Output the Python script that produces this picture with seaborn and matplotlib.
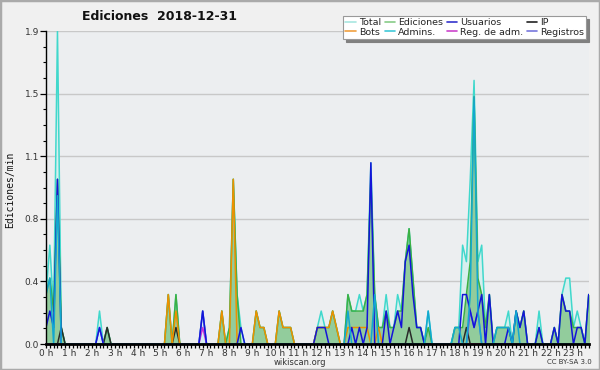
import numpy as np
import pandas as pd
import matplotlib
matplotlib.use("Agg")
import matplotlib.pyplot as plt
import seaborn as sns
from matplotlib.patches import Rectangle
from matplotlib.lines import Line2D

# 10-minute bins, one row per hour (edits per minute)
hour_labels = [f"{h} h" for h in range(24)]
ytick_vals = [0.0, 0.38, 0.76, 1.14, 1.52, 1.9]
ytick_labels = ["0.0", "0.4", "0.8", "1.1", "1.5", "1.9"]

total = [
    0.3, 0.6, 0.2, 1.9, 0.1, 0,     # 0h
    0, 0, 0, 0, 0, 0,               # 1h
    0, 0, 0.2, 0, 0.1, 0,           # 2h
    0, 0, 0, 0, 0, 0,               # 3h
    0, 0, 0, 0, 0, 0,               # 4h
    0, 0, 0.3, 0, 0.3, 0,           # 5h
    0, 0, 0, 0, 0, 0.2,             # 6h
    0, 0, 0, 0, 0.2, 0,             # 7h
    0.1, 1.0, 0.3, 0.1, 0, 0,       # 8h
    0, 0.2, 0.1, 0.1, 0, 0,         # 9h
    0, 0.2, 0.1, 0.1, 0.1, 0,       # 10h
    0, 0, 0, 0, 0, 0.1,             # 11h
    0.2, 0.1, 0.1, 0.2, 0.1, 0,     # 12h
    0, 0.3, 0.2, 0.2, 0.3, 0.2,     # 13h
    0.3, 1.1, 0.3, 0.1, 0.1, 0.3,   # 14h
    0.1, 0.1, 0.3, 0.2, 0.5, 0.7,   # 15h
    0.4, 0.1, 0.1, 0, 0.2, 0,       # 16h
    0, 0, 0, 0, 0, 0.1,             # 17h
    0.1, 0.6, 0.5, 1.0, 1.6, 0.5,   # 18h
    0.6, 0.1, 0.3, 0, 0.1, 0.1,     # 19h
    0.1, 0.2, 0, 0.2, 0.1, 0.2,     # 20h
    0, 0, 0, 0.2, 0, 0,             # 21h
    0, 0.1, 0, 0.3, 0.4, 0.4,       # 22h
    0.1, 0.2, 0.1, 0, 0.3, 0.3,     # 23h
]

ediciones = [
    0.3, 0.4, 0.2, 1.0, 0.1, 0,
    0, 0, 0, 0, 0, 0,
    0, 0, 0, 0, 0.1, 0,
    0, 0, 0, 0, 0, 0,
    0, 0, 0, 0, 0, 0,
    0, 0, 0.3, 0, 0.3, 0,
    0, 0, 0, 0, 0, 0,
    0, 0, 0, 0, 0.2, 0,
    0.1, 1.0, 0.3, 0, 0, 0,
    0, 0.2, 0.1, 0.1, 0, 0,
    0, 0.2, 0.1, 0.1, 0.1, 0,
    0, 0, 0, 0, 0, 0.1,
    0.1, 0.1, 0.1, 0.2, 0.1, 0,
    0, 0.3, 0.2, 0.2, 0.2, 0.2,
    0.3, 1.0, 0.3, 0.1, 0.1, 0.2,
    0.1, 0.1, 0.2, 0.2, 0.5, 0.7,
    0.4, 0.1, 0.1, 0, 0.1, 0,
    0, 0, 0, 0, 0, 0.1,
    0.1, 0.1, 0.3, 0.5, 1.5, 0.4,
    0.3, 0.1, 0.3, 0, 0.1, 0.1,
    0.1, 0.1, 0, 0.2, 0.1, 0.2,
    0, 0, 0, 0.1, 0, 0,
    0, 0.1, 0, 0.3, 0.2, 0.2,
    0.1, 0.1, 0.1, 0, 0.3, 0.3,
]

usuarios = [
    0.1, 0.2, 0.1, 1.0, 0, 0,
    0, 0, 0, 0, 0, 0,
    0, 0, 0.1, 0, 0, 0,
    0, 0, 0, 0, 0, 0,
    0, 0, 0, 0, 0, 0,
    0, 0, 0, 0, 0, 0,
    0, 0, 0, 0, 0, 0.2,
    0, 0, 0, 0, 0, 0,
    0, 0, 0, 0.1, 0, 0,
    0, 0, 0, 0, 0, 0,
    0, 0, 0, 0, 0, 0,
    0, 0, 0, 0, 0, 0.1,
    0.1, 0.1, 0, 0, 0, 0,
    0, 0, 0.1, 0, 0.1, 0,
    0.1, 1.1, 0, 0, 0, 0.2,
    0, 0.1, 0.2, 0.1, 0.5, 0.6,
    0.3, 0.1, 0.1, 0, 0, 0,
    0, 0, 0, 0, 0, 0,
    0, 0.3, 0.3, 0.2, 0.1, 0.2,
    0.3, 0, 0.3, 0, 0, 0,
    0, 0.1, 0, 0.2, 0.1, 0.2,
    0, 0, 0, 0.1, 0, 0,
    0, 0.1, 0, 0.3, 0.2, 0.2,
    0, 0.1, 0.1, 0, 0.3, 0.3,
]

ip = [0.0] * 144
ip_points = {4: 0.1, 16: 0.1, 34: 0.1, 95: 0.1, 110: 0.1}

bots = [
    0, 0, 0, 0, 0, 0,
    0, 0, 0, 0, 0, 0,
    0, 0, 0, 0, 0, 0,
    0, 0, 0, 0, 0, 0,
    0, 0, 0, 0, 0, 0,
    0, 0, 0.3, 0, 0.2, 0,
    0, 0, 0, 0, 0, 0,
    0, 0, 0, 0, 0.2, 0,
    0, 1.0, 0, 0, 0, 0,
    0, 0.2, 0.1, 0.1, 0, 0,
    0, 0.2, 0.1, 0.1, 0.1, 0,
    0, 0, 0, 0, 0, 0.1,
    0.1, 0.1, 0.1, 0.2, 0.1, 0,
    0, 0.1, 0.1, 0.1, 0.1, 0.1,
    0.1, 0, 0, 0.1, 0, 0,
    0, 0, 0, 0, 0, 0,
    0, 0, 0, 0, 0, 0,
    0, 0, 0, 0, 0, 0,
    0, 0, 0, 0, 0, 0,
    0, 0, 0, 0, 0, 0,
    0, 0, 0, 0, 0, 0,
    0, 0, 0, 0, 0, 0,
    0, 0, 0, 0, 0, 0,
    0, 0, 0, 0, 0, 0,
]

admins = [
    0.3, 0.4, 0, 0.9, 0, 0,
    0, 0, 0, 0, 0, 0,
    0, 0, 0, 0, 0, 0,
    0, 0, 0, 0, 0, 0,
    0, 0, 0, 0, 0, 0,
    0, 0, 0, 0, 0, 0,
    0, 0, 0, 0, 0, 0,
    0, 0, 0, 0, 0, 0,
    0, 0, 0, 0, 0, 0,
    0, 0, 0, 0, 0, 0,
    0, 0, 0, 0, 0, 0,
    0, 0, 0, 0, 0, 0,
    0, 0, 0, 0, 0, 0,
    0, 0.2, 0, 0, 0, 0,
    0, 0, 0.3, 0, 0, 0,
    0, 0, 0, 0, 0, 0,
    0, 0, 0, 0, 0.2, 0,
    0, 0, 0, 0, 0, 0.1,
    0.1, 0, 0, 0.3, 1.5, 0.2,
    0, 0, 0, 0, 0.1, 0.1,
    0.1, 0.1, 0, 0.2, 0, 0,
    0, 0, 0, 0, 0, 0,
    0, 0, 0, 0, 0, 0,
    0, 0, 0, 0, 0, 0,
]

reg_adm = [0.0] * 144
reg_adm_points = {41: 0.1}

registros = [0.0] * 144
registros_points = {14: 0.1, 41: 0.2, 111: 0.2, 112: 0.1, 113: 0.2}

for k, v in ip_points.items():
    ip[k] = v
for k, v in reg_adm_points.items():
    reg_adm[k] = v
for k, v in registros_points.items():
    registros[k] = v

df = pd.DataFrame({
    "i": np.arange(144),
    "Total": total, "Ediciones": ediciones, "Usuarios": usuarios, "IP": ip,
    "Bots": bots, "Admins.": admins, "Reg. de adm.": reg_adm, "Registros": registros,
})

colors = {
    "Total": "#40d8cc", "Ediciones": "#3cb043", "Usuarios": "#1414d8", "IP": "#2a2a2a",
    "Bots": "#ee9000", "Admins.": "#12a8d0", "Reg. de adm.": "#d030d8", "Registros": "#5a5af0",
}
legend_colors = {
    "Total": "#a8e6e0", "Ediciones": "#88cc88", "Usuarios": "#3333cc", "IP": "#222222",
    "Bots": "#f0a040", "Admins.": "#40c8d8", "Reg. de adm.": "#cc44cc", "Registros": "#7777dd",
}

sns.set_theme(style="white")
plt.rcParams['font.family'] = ['DejaVu Sans']

fig = plt.figure(figsize=(6, 3.7), dpi=100, facecolor="#f0f0f0")
ax = fig.add_axes([46 / 600, 26 / 370, 543 / 600, 313 / 370])
ax.set_facecolor("#eceef0")

# fills
ax.fill_between(df["i"], 0, df["Total"], color="#d6efee", lw=0, zorder=1)
ax.fill_between(df["i"], 0, df["Ediciones"], color="#8fca98", alpha=0.95, lw=0, zorder=2)

order = ["Total", "Ediciones", "IP", "Bots", "Reg. de adm.", "Registros", "Usuarios", "Admins."]
for name in order:
    sns.lineplot(data=df, x="i", y=name, ax=ax, color=colors[name], lw=1.1,
                 legend=False, zorder=3)

ax.set_xlim(0, 543 / 3.822)
ax.set_ylim(0, 1.9)
ax.set_xlabel("")
ax.set_ylabel("")

ax.set_xticks(np.arange(0, 144, 6))
ax.set_xticklabels(hour_labels)
ax.set_xticks(np.arange(0, 143, 1), minor=True)
ax.set_yticks(ytick_vals)
ax.set_yticklabels(ytick_labels)
ax.set_yticks(np.arange(0, 1.9001, 0.095), minor=True)

ax.tick_params(axis="x", which="both", direction="out", length=3, width=0.9,
               color="black", labelsize=6.5, pad=0.5, bottom=True, labelcolor="#333333")
ax.tick_params(axis="y", which="major", direction="out", length=4, width=0.9,
               color="black", labelsize=6.5, pad=1, left=True, labelcolor="#333333")
ax.tick_params(axis="y", which="minor", direction="out", length=2.5, width=0.8,
               color="black", left=True)
for lab in ax.get_xticklabels() + ax.get_yticklabels():
    lab.set_family(["Liberation Sans Narrow", "DejaVu Sans"])

ax.yaxis.grid(True, color="#c8c8c8", lw=1)
ax.xaxis.grid(False)
ax.set_axisbelow(True)
for s in ["top", "right"]:
    ax.spines[s].set_visible(False)
ax.spines["left"].set_color("black")
ax.spines["left"].set_linewidth(1)
ax.spines["left"].set_zorder(10)
ax.spines["bottom"].set_color("black")
ax.spines["bottom"].set_linewidth(2)
ax.spines["bottom"].set_zorder(10)

fig.text(160 / 600, 1 - 17 / 370, "Ediciones  2018-12-31", ha="center", va="center",
         fontsize=9, weight="bold", color="#111111")
fig.text(10 / 600, 1 - 190 / 370, "Ediciones/min", rotation=90, ha="center", va="center",
         fontsize=7, family=["DejaVu Sans Mono"], color="#111111")
fig.text(300 / 600, 1 - 362.5 / 370, "wikiscan.org", ha="center", va="center",
         fontsize=6, color="#333333")
fig.text(569 / 600, 1 - 362.5 / 370, "CC BY-SA 3.0", ha="center", va="center",
         fontsize=5, color="#333333")

leg_order = ["Total", "Bots", "Ediciones", "Admins.", "Usuarios", "Reg. de adm.", "IP", "Registros"]
handles = [Line2D([0], [0], color=legend_colors[n], lw=1.2) for n in leg_order]
leg = fig.legend(handles, leg_order, loc="upper right", bbox_to_anchor=(591 / 600, 1 - 11 / 370),
                 ncol=4, fontsize=6.8, handlelength=1.1, handletextpad=0.3,
                 columnspacing=0.4, borderpad=0.25, labelspacing=0.05,
                 frameon=True, fancybox=False, shadow={"color": "#808080", "alpha": 1.0},
                 facecolor="white", edgecolor="#999999", framealpha=1)
leg.get_frame().set_linewidth(0.8)

fig.patches.append(Rectangle((0, 0), 1, 1, transform=fig.transFigure, fill=False,
                             edgecolor="#aaaaaa", lw=2.5))

fig.savefig("out.png", dpi=100, facecolor=fig.get_facecolor())
